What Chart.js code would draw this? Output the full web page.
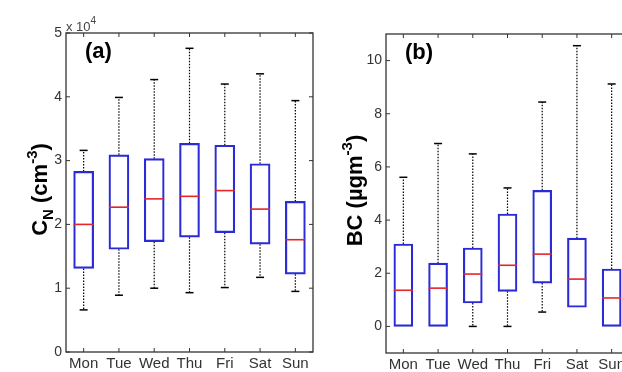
<!DOCTYPE html>
<html><head><meta charset="utf-8">
<script src="https://cdn.jsdelivr.net/npm/chart.js@4"></script>
<style>
html,body{margin:0;padding:0;background:#fff;overflow:hidden;width:622px;height:372px;position:relative}
#wa{position:absolute;left:0;top:0;width:320px;height:372px}
#wb{position:absolute;left:320px;top:0;width:320px;height:372px}
</style></head><body>
<div id="wa"><canvas id="ca"></canvas></div>
<div id="wb"><canvas id="cb"></canvas></div>
<script>
const days = ['Mon','Tue','Wed','Thu','Fri','Sat','Sun'];
// Panel (a): particle number concentration C_N (cm^-3)
const cnMin = [6600, 8900, 10000, 9300, 10100, 11700, 9500];
const cnQ1  = [13100, 16100, 17300, 18000, 18700, 16900, 12200];
const cnMed = [20000, 22700, 24000, 24400, 25300, 22400, 17600];
const cnQ3  = [28300, 30900, 30300, 32700, 32400, 29500, 23600];
const cnMax = [31600, 39900, 42700, 47600, 42000, 43600, 39400];
const cnTicks = [0, 10000, 20000, 30000, 40000, 50000];
// Panel (b): black carbon BC (ugm^-3)
const bcMin = [0, 0, 0, 0, 0.54, 0.72, 0];
const bcQ1  = [0, 0, 0.88, 1.32, 1.63, 0.72, 0];
const bcMed = [1.36, 1.44, 1.97, 2.30, 2.72, 1.78, 1.07];
const bcQ3  = [3.10, 2.38, 2.95, 4.23, 5.12, 3.32, 2.16];
const bcMax = [5.61, 6.88, 6.49, 5.21, 8.44, 10.56, 9.12];
const bcTicks = [0, 2, 4, 6, 8, 10];

const AX = '#333';
const FONT = "'Liberation Sans', Arial, sans-serif";

function drawRich(ctx, parts, cx, cy, rotate, align) {
  ctx.save();
  ctx.translate(cx, cy);
  if (rotate) ctx.rotate(-Math.PI / 2);
  let total = 0;
  parts.forEach(p => { ctx.font = p.font; p.w = ctx.measureText(p.t).width; total += p.w; });
  let xx = align === 'left' ? 0 : -total / 2;
  ctx.textBaseline = 'alphabetic';
  ctx.textAlign = 'left';
  parts.forEach(p => { ctx.font = p.font; ctx.fillStyle = p.color || '#000'; ctx.fillText(p.t, xx, p.dy || 0); xx += p.w; });
  ctx.restore();
}

function makeChart(id, d) {
  const line = (ctx, x1, y1, x2, y2) => { ctx.beginPath(); ctx.moveTo(x1, y1); ctx.lineTo(x2, y2); ctx.stroke(); };
  const plugin = {
    id: 'boxplot_' + id,
    beforeDatasetsDraw(chart) {
      const { ctx, scales: { x, y } } = chart;
      ctx.save();
      d.med.forEach((m, i) => {
        const cx = x.getPixelForValue(i);
        ctx.strokeStyle = '#000';
        ctx.setLineDash([1.5, 1.5]); ctx.lineWidth = 1.2;
        line(ctx, cx, y.getPixelForValue(d.q3[i]), cx, y.getPixelForValue(d.max[i]));
        line(ctx, cx, y.getPixelForValue(d.q1[i]), cx, y.getPixelForValue(d.min[i]));
        ctx.setLineDash([]); ctx.lineWidth = 1.5;
        const yt = y.getPixelForValue(d.max[i]), yb = y.getPixelForValue(d.min[i]);
        if (d.max[i] > d.q3[i]) line(ctx, cx - 4, yt, cx + 4, yt);
        if (d.min[i] < d.q1[i]) line(ctx, cx - 4, yb, cx + 4, yb);
      });
      ctx.restore();
    },
    afterDatasetsDraw(chart) {
      const { ctx, scales: { x, y } } = chart;
      const meta = chart.getDatasetMeta(0);
      ctx.save();
      ctx.strokeStyle = '#e3262b'; ctx.lineWidth = 1.6;
      d.med.forEach((m, i) => {
        const cx = x.getPixelForValue(i);
        const hw = meta.data[i].width / 2;
        const ym = y.getPixelForValue(m);
        line(ctx, cx - hw, ym, cx + hw, ym);
      });
      ctx.restore();
    },
    afterDraw(chart) {
      const { ctx, chartArea: a, scales: { x, y } } = chart;
      ctx.save();
      ctx.strokeStyle = AX; ctx.lineWidth = 1.3;
      ctx.strokeRect(a.left, a.top, a.right - a.left, a.bottom - a.top);
      ctx.lineWidth = 1;
      y.ticks.forEach(t => {
        const py = y.getPixelForValue(t.value);
        line(ctx, a.left, py, a.left + 4, py);
        line(ctx, a.right - 4, py, a.right, py);
      });
      days.forEach((dd, i) => {
        const px = x.getPixelForValue(i);
        line(ctx, px, a.bottom, px, a.bottom - 4);
        line(ctx, px, a.top, px, a.top + 4);
      });
      // panel label
      ctx.font = 'bold 22px ' + FONT; ctx.fillStyle = '#000';
      ctx.textAlign = 'left'; ctx.textBaseline = 'alphabetic';
      ctx.fillText(d.panel, a.left + d.panelDx, a.top + 25);
      // y title
      drawRich(ctx, d.title, d.titleX, (a.top + a.bottom) / 2 - 3, true);
      if (d.mult) drawRich(ctx, d.mult, a.left, a.top - 2, false, 'left');
      ctx.restore();
    }
  };
  return new Chart(document.getElementById(id), {
    type: 'bar',
    data: {
      labels: days,
      datasets: [{
        data: d.q1.map((v, i) => [v, d.q3[i]]),
        backgroundColor: 'rgba(0,0,0,0)',
        borderColor: '#2a2ad8',
        borderWidth: 1.5,
        borderSkipped: false,
        barThickness: d.bw
      }]
    },
    options: {
      animation: false,
      responsive: true,
      maintainAspectRatio: false,
      events: [],
      layout: { padding: { top: d.top, right: d.right, left: 0, bottom: 0 } },
      plugins: { legend: { display: false }, tooltip: { enabled: false } },
      scales: {
        x: {
          type: 'category', offset: true,
          grid: { display: false, drawTicks: false },
          border: { display: false },
          ticks: { color: AX, font: { family: FONT, size: 15 }, padding: 3, maxRotation: 0, autoSkip: false },
          afterFit: s => { s.height = d.xh; }
        },
        y: {
          min: d.min0, max: d.max0,
          grid: { display: false, drawTicks: false },
          border: { display: false },
          afterBuildTicks: s => { s.ticks = d.ticks.map(v => ({ value: v })); },
          ticks: { color: AX, font: { family: FONT, size: 14 }, padding: 4, callback: d.fmt },
          afterFit: s => { s.width = 66; }
        }
      }
    },
    plugins: [plugin]
  });
}

const bold = 'bold 22px ' + FONT, boldSmall = 'bold 15px ' + FONT;
makeChart('ca', {
  q1: cnQ1, q3: cnQ3, med: cnMed, min: cnMin, max: cnMax, ticks: cnTicks,
  min0: 0, max0: 50000, fmt: v => String(v / 10000),
  top: 33, right: 7, xh: 20, bw: 20, panel: '(a)', panelDx: 19, titleX: 47,
  title: [{ t: 'C', font: bold }, { t: 'N', font: boldSmall, dy: 6 }, { t: ' (cm', font: bold },
          { t: '-3', font: boldSmall, dy: -10 }, { t: ')', font: bold }],
  mult: [{ t: 'x 10', font: '13px ' + FONT, color: '#444' }, { t: '4', font: '10px ' + FONT, color: '#444', dy: -7 }]
});
makeChart('cb', {
  q1: bcQ1, q3: bcQ3, med: bcMed, min: bcMin, max: bcMax, ticks: bcTicks,
  min0: -1, max0: 11, fmt: v => String(v),
  top: 34, right: 11, xh: 19, bw: 19, panel: '(b)', panelDx: 19, titleX: 42,
  title: [{ t: 'BC (\u00B5gm', font: bold }, { t: '-3', font: boldSmall, dy: -10 }, { t: ')', font: bold }]
});
</script>
</body></html>
